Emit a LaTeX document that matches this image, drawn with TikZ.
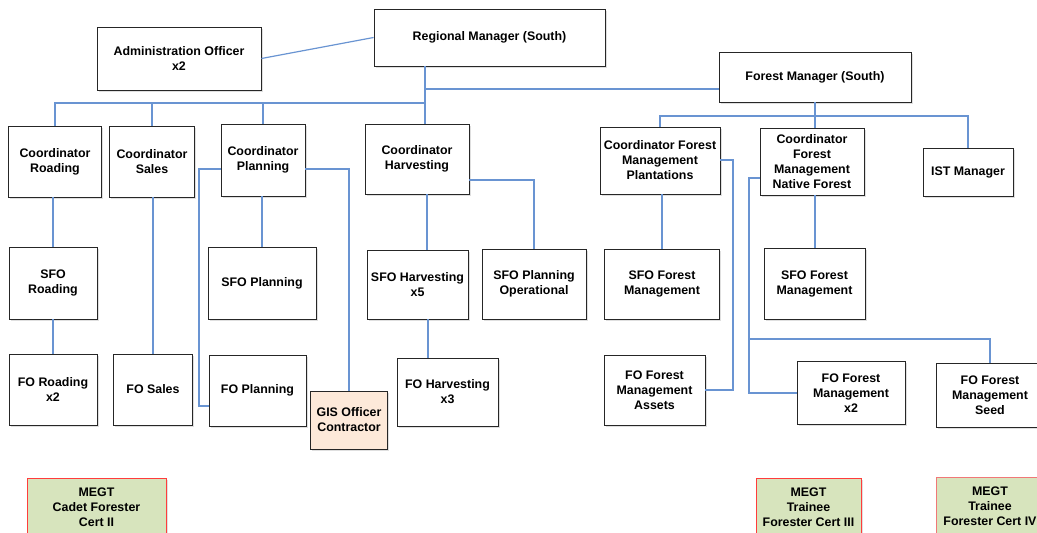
\documentclass[tikz,border=0pt]{standalone}
\usepackage{fontspec}
\setmainfont{Liberation Sans}
\usetikzlibrary{shadows}
\definecolor{linecol}{RGB}{105,148,210}
\definecolor{gisfill}{RGB}{253,233,217}
\definecolor{megtfill}{RGB}{215,228,189}
\definecolor{megtred}{RGB}{255,60,60}
\definecolor{megtpink}{RGB}{240,120,120}
\begin{document}
\begin{tikzpicture}[x=1pt,y=-1pt,
  box/.style={draw=black!85, line width=0.9pt, fill=white, align=center, inner sep=1pt,
    font=\fontsize{12.4}{15}\selectfont\bfseries,
    drop shadow={shadow xshift=1.5pt, shadow yshift=-1.5pt, opacity=0.25}},
  gisbox/.style={box, fill=gisfill},
  megtbox/.style={box, fill=megtfill, draw=megtred},
  conn/.style={draw=linecol, line width=1.2pt}]
\useasboundingbox (0,0) rectangle (1037,533);
\clip (0,0) rectangle (1037,533);
% --- boxes ---
\node[box, minimum width=164pt, minimum height=63pt] (admin) at (179,58.5) {Administration Officer\\x2};
\node[box, minimum width=231pt, minimum height=57pt] (rm) at (489.5,37.5) {Regional Manager (South)};
\node[box, minimum width=192pt, minimum height=50pt] (fm) at (815,77) {Forest Manager (South)};
\node[box, minimum width=93pt, minimum height=71pt] (croad) at (55,161.5) {Coordinator\\Roading};
\node[box, minimum width=85pt, minimum height=71pt] (csales) at (152,161.5) {Coordinator\\Sales};
\node[box, minimum width=84pt, minimum height=72pt] (cplan) at (263,160) {Coordinator\\Planning};
\node[box, minimum width=104pt, minimum height=70pt] (charv) at (417,159) {Coordinator\\Harvesting};
\node[box, minimum width=120pt, minimum height=67pt] (cfmp) at (660,160.5) {Coordinator Forest\\Management\\Plantations};
\node[box, minimum width=104pt, minimum height=67pt] (cfmn) at (812,161.5) {Coordinator\\Forest\\Management\\Native Forest};
\node[box, minimum width=90pt, minimum height=48pt] (ist) at (968,172) {IST Manager};
\node[box, minimum width=88pt, minimum height=72pt] (sforoad) at (53,283) {SFO\\Roading};
\node[box, minimum width=108pt, minimum height=72pt] (sfoplan) at (262,283) {SFO Planning};
\node[box, minimum width=101pt, minimum height=69pt] (sfoharv) at (417.5,284.5) {SFO Harvesting\\x5};
\node[box, minimum width=104pt, minimum height=70pt] (sfoplanop) at (534,284) {SFO Planning\\Operational};
\node[box, minimum width=115pt, minimum height=70pt] (sfofma) at (662,284) {SFO Forest\\Management};
\node[box, minimum width=101pt, minimum height=71pt] (sfofmb) at (814.5,283.5) {SFO Forest\\Management};
\node[box, minimum width=88pt, minimum height=71pt] (foroad) at (53,389.5) {FO Roading\\x2};
\node[box, minimum width=79pt, minimum height=71pt] (fosales) at (153,389.5) {FO Sales};
\node[box, minimum width=97pt, minimum height=71pt] (foplan) at (257.5,390.5) {FO Planning};
\node[gisbox, minimum width=77pt, minimum height=58pt] (gis) at (349,420) {GIS Officer\\Contractor};
\node[box, minimum width=101pt, minimum height=68pt] (foharv) at (447.5,392) {FO Harvesting\\x3};
\node[box, minimum width=101pt, minimum height=70pt] (fofmassets) at (654.5,390) {FO Forest\\Management\\Assets};
\node[box, minimum width=108pt, minimum height=63pt] (fofmx) at (851,393) {FO Forest\\Management\\x2};
\node[box, minimum width=108pt, minimum height=64pt] (fofmseed) at (990,395) {FO Forest\\Management\\Seed};
\node[megtbox, minimum width=139pt, minimum height=58pt] (megtcadet) at (96.5,507) {MEGT\\Cadet Forester\\Cert II};
\node[megtbox, minimum width=105pt, minimum height=58pt] (megtiii) at (808.5,507) {MEGT\\Trainee\\Forester Cert III};
\node[megtbox, draw=megtpink, minimum width=108pt, minimum height=58pt] (megtiv) at (990,506) {MEGT\\Trainee\\Forester Cert IV};
% --- connectors ---
\draw[conn] (admin.east) -- (rm.west);
\draw[conn] (425,0 |- rm.south) -- (425,0 |- charv.north);
\draw[conn] (croad.north) |- (425,103);
\draw[conn] (csales.north) -- (csales.north |- 0,103);
\draw[conn] (cplan.north) -- (cplan.north |- 0,103);
\draw[conn] (425,89) -- (fm.west |- 0,89);
\draw[conn] (fm.south) -- (fm.south |- cfmn.north);
\draw[conn] (cfmp.north) |- (968,116) -- (ist.north);
\draw[conn] (sforoad.north |- croad.south) -- (sforoad.north);
\draw[conn] (sforoad.south) -- (foroad.north);
\draw[conn] (fosales.north |- csales.south) -- (fosales.north);
\draw[conn] (sfoplan.north |- cplan.south) -- (sfoplan.north);
\draw[conn] (cplan.west |- 0,169) -- (199,169) |- (foplan.west |- 0,406);
\draw[conn] (cplan.east |- 0,169) -| (gis.north);
\draw[conn] (427,0 |- charv.south) -- (427,0 |- sfoharv.north);
\draw[conn] (428,0 |- sfoharv.south) -- (428,0 |- foharv.north);
\draw[conn] (charv.east |- 0,180) -| (sfoplanop.north);
\draw[conn] (sfofma.north |- cfmp.south) -- (sfofma.north);
\draw[conn] (cfmp.east |- 0,160) -- (733,160) |- (fofmassets.east);
\draw[conn] (cfmn.west |- 0,178) -- (749,178) |- (fofmx.west);
\draw[conn] (749,339) -| (fofmseed.north);
\draw[conn] (815,0 |- cfmn.south) -- (815,0 |- sfofmb.north);
\end{tikzpicture}
\end{document}
